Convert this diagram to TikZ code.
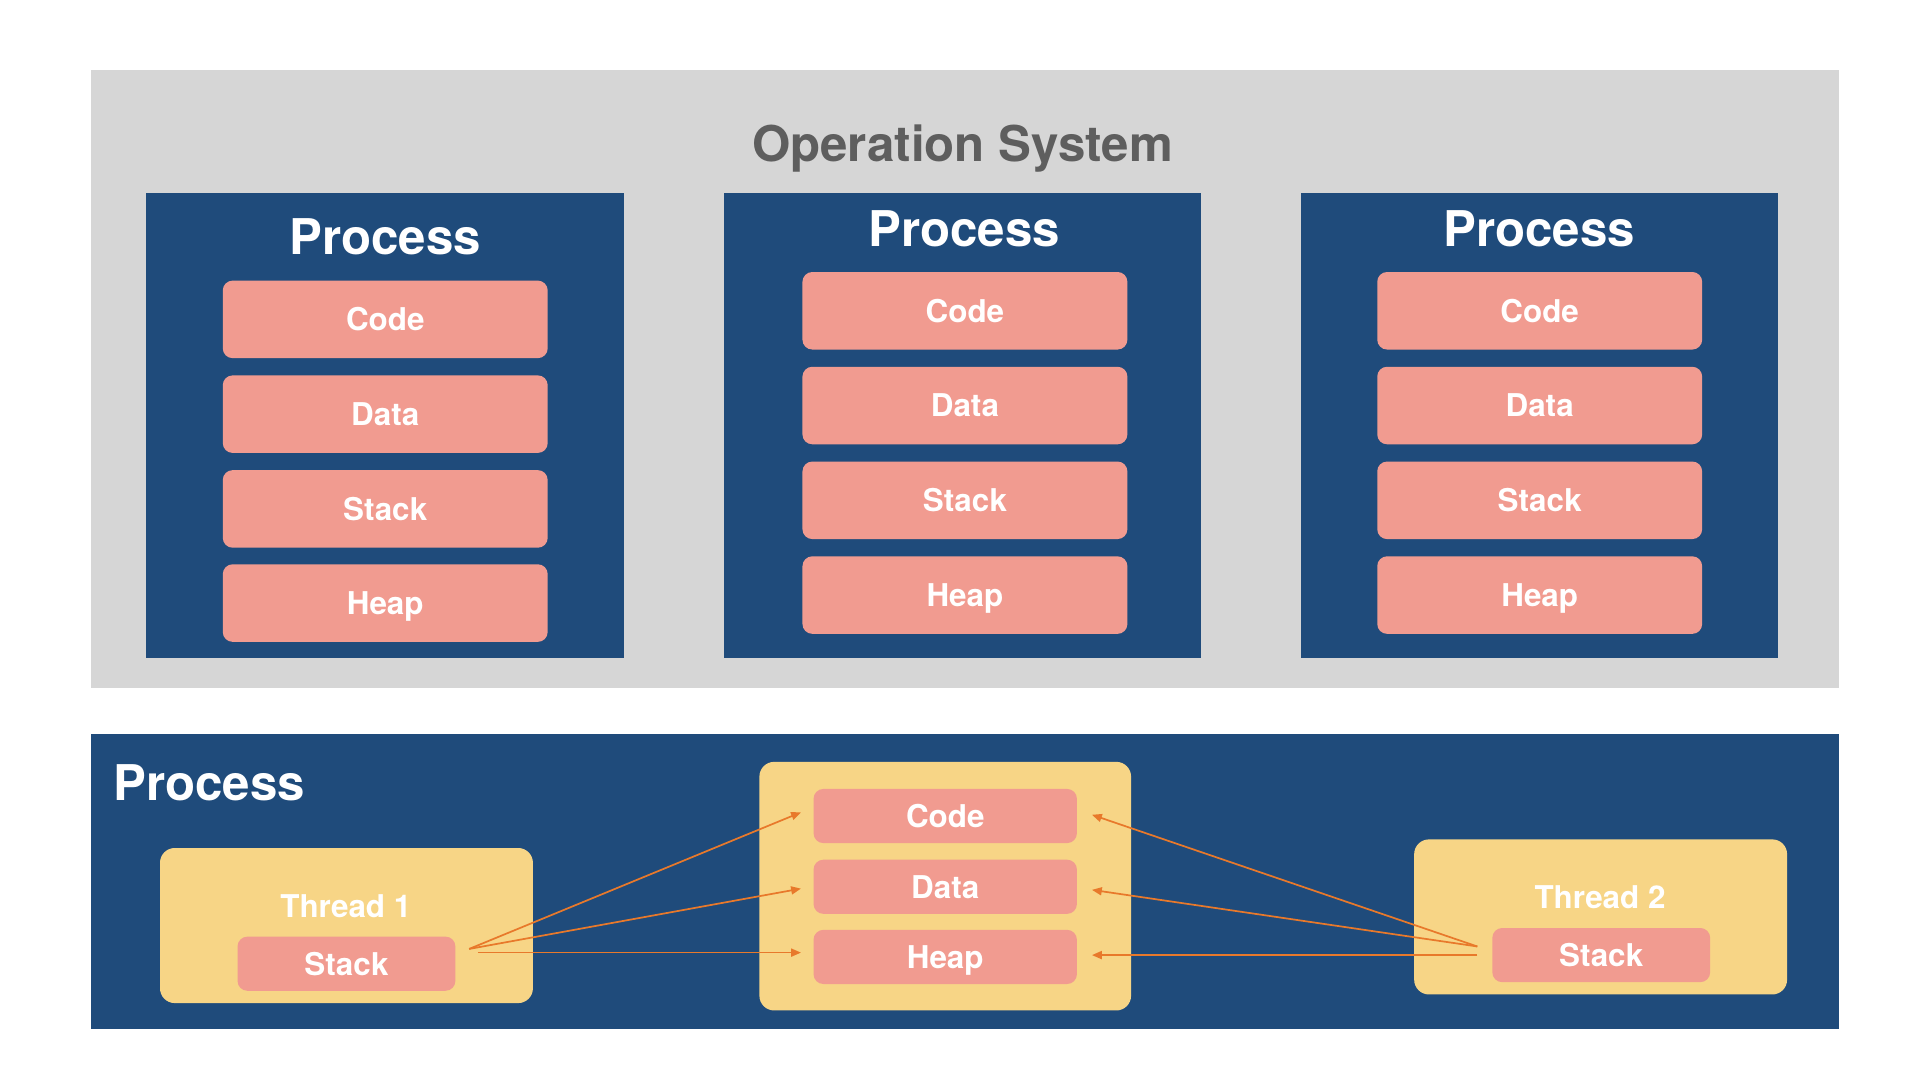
\documentclass[tikz,border=0pt]{standalone}
\usepackage{fontspec}
\setmainfont{TeX Gyre Heros}
\usetikzlibrary{arrows.meta,calc}
\definecolor{osgray}{HTML}{D6D6D6}
\definecolor{navy}{HTML}{1F4B7B}
\definecolor{pinkbox}{HTML}{F19B90}
\definecolor{yel}{HTML}{F7D586}
\definecolor{orng}{HTML}{E8792B}
\definecolor{ostext}{HTML}{5E5E5E}
\begin{document}
\begin{tikzpicture}[x=1pt,y=-1pt,
  capbig/.style={text height=28.8pt, text depth=0pt, inner sep=0pt},
  capsmall/.style={text height=18.4pt, text depth=0pt, inner sep=0pt},
  bigtitle/.style={capbig, font=\fontsize{40}{48}\selectfont\bfseries, text=white},
  lbl/.style={capsmall, font=\fontsize{25.5}{30}\selectfont\bfseries, text=white},
  seg/.style={lbl, fill=pinkbox, rounded corners=8pt, minimum width=264pt, minimum height=63pt},
  smallseg/.style={lbl, fill=pinkbox, rounded corners=8pt, minimum width=214pt, minimum height=44pt},
  stackseg/.style={lbl, fill=pinkbox, rounded corners=8pt, minimum width=177pt, minimum height=44pt},
  procbox/.style={fill=navy, inner sep=0pt, minimum width=388pt, minimum height=378pt},
  yelbox/.style={fill=yel, rounded corners=12pt, inner sep=0pt},
  link/.style={draw=orng, line width=1.4pt, -{Triangle[length=8pt,width=6.5pt]}}
]
\useasboundingbox (0,0) rectangle (1560,877.5);
\fill[white] (0,0) rectangle (1560,877.5);

% Operation system
\node[fill=osgray, inner sep=0pt, minimum width=1420pt, minimum height=502pt] (os) at (784,308) {};
\node[capbig, font=\fontsize{40}{48}\selectfont\bfseries, text=ostext] (ostitle) at (782,117) {Operation System};

% Process 1
\node[procbox] (p1) at (313,346) {};
\node[bigtitle] (p1t) at (313,192) {Process};
\node[seg] (p1c) at (313,259.5) {Code};
\node[seg] (p1d) at (313,336.5) {Data};
\node[seg] (p1s) at (313,413.5) {Stack};
\node[seg] (p1h) at (313,490) {Heap};

% Process 2
\node[procbox] (p2) at (782,346) {};
\node[bigtitle] (p2t) at (783.5,186) {Process};
\node[seg] (p2c) at (784,252.5) {Code};
\node[seg] (p2d) at (784,329.5) {Data};
\node[seg] (p2s) at (784,406.5) {Stack};
\node[seg] (p2h) at (784,483.5) {Heap};

% Process 3
\node[procbox] (p3) at (1251,346) {};
\node[bigtitle] (p3t) at (1250.5,186) {Process};
\node[seg] (p3c) at (1251,252.5) {Code};
\node[seg] (p3d) at (1251,329.5) {Data};
\node[seg] (p3s) at (1251,406.5) {Stack};
\node[seg] (p3h) at (1251,483.5) {Heap};

% Bottom process
\node[fill=navy, inner sep=0pt, minimum width=1420pt, minimum height=240pt] (bp) at (784,716) {};
\node[bigtitle, anchor=west] (bpt) at (92,636) {Process};

% shared segments
\node[yelbox, minimum width=302pt, minimum height=202pt] (shared) at (768,720) {};
\node[smallseg] (bc) at (768,663) {Code};
\node[smallseg] (bd) at (768,720.5) {Data};
\node[smallseg] (bh) at (768,777.5) {Heap};

% Thread 1
\node[yelbox, minimum width=303pt, minimum height=126pt] (th1) at (281.5,752) {};
\node[lbl] (th1t) at (281,736) {Thread 1};
\node[stackseg] (s1) at (281.5,783) {Stack};

% Thread 2
\node[yelbox, minimum width=303pt, minimum height=126pt] (th2) at (1300.5,745) {};
\node[lbl] (th2t) at (1300,729) {Thread 2};
\node[stackseg] (s2) at (1301,776) {Stack};

% connector end points
\coordinate (t1s) at ($(s1.east)+(11,-12)$);
\coordinate (t1h) at ($(s1.east)+(18,-9)$);
\coordinate (t2s) at ($(s2.west)+(-12,-7)$);
\coordinate (t2h) at ($(s2.west)+(-12,0)$);
\coordinate (lc) at ($(bc.west)+(-10,-3)$);
\coordinate (ld) at ($(bd.west)+(-10,1.5)$);
\coordinate (lh) at ($(bh.west)+(-10,-3.5)$);
\coordinate (rc) at ($(bc.east)+(12,-1)$);
\coordinate (rd) at ($(bd.east)+(12,2.5)$);
\coordinate (rh) at ($(bh.east)+(12,-1.5)$);

\draw[link] (t1s) -- (lc);
\draw[link] (t1s) -- (ld);
\draw[link] (t1h) -- (lh);
\draw[link] (t2s) -- (rc);
\draw[link] (t2s) -- (rd);
\draw[link] (t2h) -- (rh);
\end{tikzpicture}
\end{document}
